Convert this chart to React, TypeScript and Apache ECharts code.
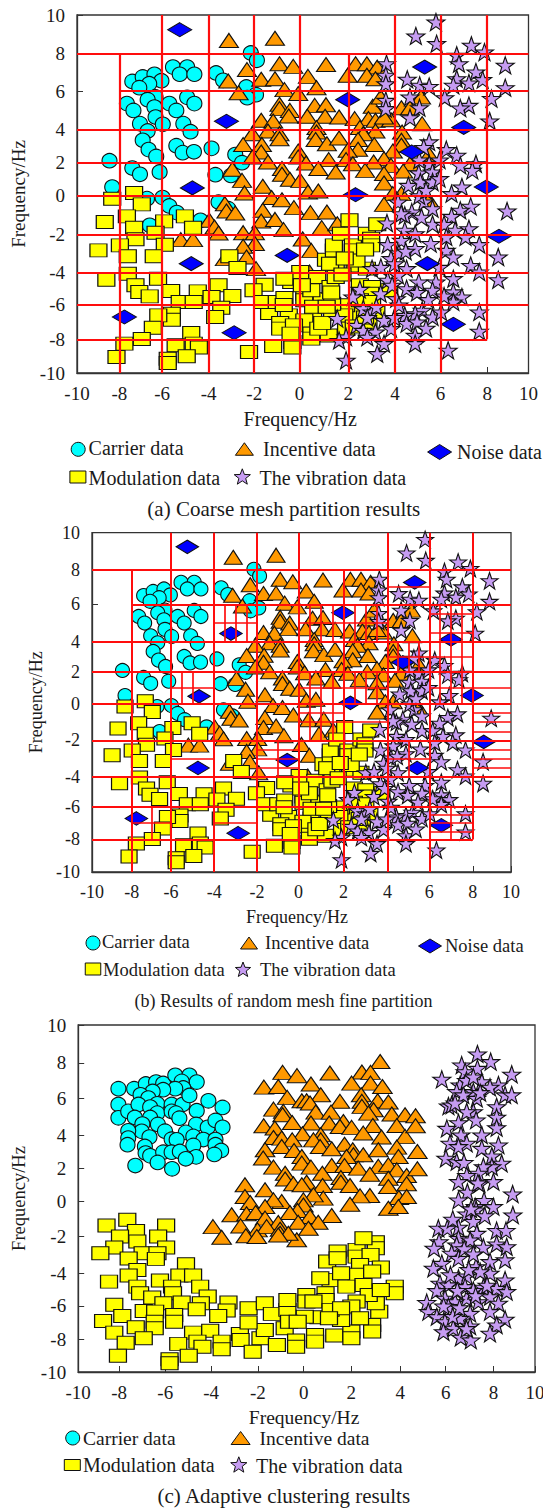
import React, { useEffect, useRef } from "react";
import * as echarts from "echarts";

const NOMINAL = [-10, -8, -6, -4, -2, 0, 2, 4, 6, 8, 10];
const A_X = [-9.86, -7.98, -6.09, -4.03, -2.01, 0, 2.16, 4.23, 6.24, 8.31, 10.14];
const A_Y = [-10, -8.12, -6.18, -4.41, -2.27, -0.11, 1.77, 3.58, 5.75, 7.84, 10];
const B_X = [-10, -8.1, -6.23, -4.17, -2.12, -0.14, 2.01, 4.1, 6.1, 8.18, 10];
const B_Y = [-10, -8.08, -6.16, -4.39, -2.24, -0.1, 1.79, 3.57, 5.77, 7.8, 10];
const C_X = [-10, -8.21, -6.19, -4.18, -2.13, -0.13, 1.96, 4.1, 6.09, 8.18, 10];
const C_Y = [-10, -8.1, -6.19, -4.31, -2.19, -0.15, 1.75, 3.63, 5.75, 7.81, 10];

const carrierA = [[-2.16,7.88],[-1.89,7.47],[-5.61,7.09],[-4.98,7.09],[-5.31,6.69],[-4.66,6.69],[-3.7,6.76],[-3.39,6.35],[-7.41,6.29],[-6.95,6.54],[-6.43,6.69],[-6.12,6.33],[-6.66,6.16],[-7.1,5.94],[-2.36,5.98],[-1.93,5.55],[-2.32,5.38],[-6.38,5.42],[-6.73,5.27],[-4.98,5.4],[-5.77,5.05],[-4.66,5.05],[-7.65,5.05],[-7.36,4.67],[-6.43,4.86],[-5.46,4.67],[-6.38,4.3],[-7.07,3.93],[-6.06,3.89],[-5.15,3.93],[-6.73,3.52],[-4.83,3.48],[-6.95,3.0],[-6.69,2.48],[-5.46,2.7],[-5.18,2.31],[-4.68,2.36],[-3.9,2.55],[-6.35,2.1],[-2.85,2.2],[-2.55,1.75],[-8.42,1.86],[-7.41,1.45],[-7.07,1.1],[-6.2,1.23],[-3.73,1.08],[-3.04,1.04],[-8.3,0.39],[-6.76,-0.26],[-6.07,-0.2],[-5.77,-0.67],[-5.44,-1.04],[-3.59,-0.45],[-6.64,-1.75],[-4.39,-1.47],[-3.16,-0.82]];

const incentiveA = [[-3.13,8.58],[-1.09,8.7],[-2.33,6.95],[-0.89,7.28],[-0.28,7.13],[1.17,7.23],[2.48,7.28],[2.98,7.28],[3.44,7.09],[2.13,6.63],[2.98,6.63],[3.36,6.44],[0.37,6.57],[-1.7,6.41],[-1.09,6.44],[-3.16,6.31],[0.75,5.94],[-0.67,5.83],[-2.7,5.66],[-0.06,5.61],[-0.89,5.01],[-0.89,4.77],[0.67,4.95],[1.17,4.99],[-0.43,4.67],[3.24,4.9],[3.59,5.42],[4.51,4.82],[4.89,4.82],[5.38,5.42],[-1.7,4.12],[-1.17,4.08],[-0.48,4.36],[0.34,4.34],[1.13,4.34],[1.75,4.3],[2.44,4.21],[3.05,4.21],[3.36,4.12],[4.05,4.15],[5.43,3.93],[3.74,4.3],[0.75,3.71],[2.67,3.71],[4.54,3.46],[-1.4,3.52],[-0.89,3.37],[-2.09,3.37],[3.36,3.52],[0.75,3.46],[2.82,3.37],[-2.5,2.76],[-1.67,2.77],[-0.89,3.09],[0.71,3.04],[1.21,2.81],[1.75,3.13],[2.59,3.04],[4.51,3.0],[3.31,2.76],[2.59,2.5],[2.13,2.44],[4.51,2.72],[-1.7,2.35],[-2.09,2.07],[-0.06,2.4],[-0.06,2.07],[4.13,2.4],[5.74,2.22],[1.29,1.92],[2.06,1.92],[3.74,1.97],[-1.4,1.79],[0.29,1.73],[2.36,1.69],[3.28,1.79],[4.05,1.6],[4.89,1.69],[-0.78,1.42],[0.83,1.42],[1.6,1.23],[2.9,1.32],[3.74,1.14],[4.59,1.28],[-2.98,1.38],[-0.78,1.1],[-2.55,0.76],[-1.63,0.43],[-0.43,0.82],[0.03,0.76],[3.74,0.61],[-2.44,0.06],[-1.24,-0.2],[-0.78,-0.32],[0.37,0.11],[0.83,0.17],[4.13,0.02],[4.51,0.02],[-3.31,-0.54],[-3.24,-0.95],[-2.85,-1.06],[3.74,-0.58],[-0.25,-0.76],[0.48,-1.04],[1.21,-1.01],[-1.63,-0.91],[-4.0,-1.47],[-1.7,-1.51],[-1.09,-1.42],[-0.71,-1.99],[0.98,-1.88],[1.67,-1.66],[-3.77,-1.84],[-3.59,-2.18],[-2.5,-2.16],[-1.98,-2.16],[-5.26,-2.55],[-4.72,-2.55],[0.14,-2.51],[-1.98,-2.77],[-2.5,-2.92],[0.52,-3.15],[-3.31,-3.61],[-2.35,-3.52],[-1.93,-4.17],[0.44,-4.36],[5.74,-0.35]];

const modulationA = [[-8.3,-0.26],[-7.33,0.06],[-6.99,-0.58],[-7.65,-1.25],[-8.63,-1.56],[-6.0,-1.53],[-5.08,-1.25],[-7.33,-1.88],[-4.72,-1.88],[-6.38,-2.16],[-7.27,-2.53],[-7.96,-2.87],[-5.97,-2.83],[-8.91,-3.15],[-7.61,-3.48],[-6.46,-3.48],[-3.11,-3.48],[-2.75,-4.13],[-7.61,-4.45],[-6.27,-4.73],[-8.56,-4.79],[-7.27,-5.1],[-7.1,-5.47],[-3.59,-5.1],[-5.69,-5.42],[-6.64,-5.72],[-4.51,-5.44],[-2.98,-5.7],[-3.9,-5.75],[-5.31,-6.03],[-4.69,-6.03],[-1.55,-5.07],[-2.04,-5.38],[-3.47,-6.35],[-5.66,-6.69],[-5.66,-7.02],[-3.74,-6.87],[-6.26,-6.78],[-6.5,-7.47],[-6.99,-8.1],[-7.76,-8.36],[-4.8,-7.77],[-5.49,-8.45],[-4.69,-8.36],[-4.46,-8.58],[-8.11,-9.11],[-5.0,-9.07],[-5.84,-9.2],[-5.84,-9.44],[-2.24,-8.83],[-1.17,-8.49],[-0.32,-8.27],[-0.32,-8.58],[-1.35,-6.65],[-0.48,-6.78],[-0.86,-7.21],[-0.86,-7.52],[0.6,-6.87],[0.52,-7.8],[0.52,-8.08],[1.29,-7.9],[-1.63,-6.03],[-1.01,-6.03],[-0.67,-5.81],[0.21,-5.57],[0.21,-5.94],[0.98,-5.88],[-0.37,-4.92],[0.03,-4.36],[-0.67,-4.73],[0.78,-4.64],[1.37,-5.2],[1.17,-3.67],[1.52,-3.15],[1.52,-2.87],[2.21,-1.47],[1.83,-2.22],[2.36,-2.87],[2.36,-3.15],[2.98,-2.22],[3.17,-2.5],[3.17,-2.87],[3.44,-1.69],[1.6,-4.08],[1.6,-4.64],[2.44,-3.99],[2.98,-4.17],[2.67,-5.1],[0.52,-5.38],[3.21,-5.2],[2.67,-6.69],[3.13,-5.57],[3.05,-7.24],[3.97,-5.38],[2.06,-6.22],[1.44,-6.69],[2.06,-7.52],[2.67,-5.94],[3.21,-6.03],[1.98,-6.78],[0.21,-7.06],[-0.25,-7.34],[0.83,-7.52],[1.44,-6.13],[2.52,-3.71],[1.35,-3.9],[1.9,-4.5],[1.4,-5.5],[2.9,-3.1],[2.0,-3.6],[0.6,-6.3],[1.0,-7.2],[1.2,-6.3],[2.4,-7.4],[3.4,-6.6],[2.9,-6.9],[-0.4,-7.8],[-0.7,-6.2],[0.1,-5.1]];

const vibrationA = [[6.04,9.61],[5.15,8.83],[6.07,8.4],[7.61,8.31],[8.19,7.93],[6.96,7.75],[7.06,7.28],[3.85,7.28],[9.11,7.19],[7.81,6.82],[3.82,6.63],[3.82,6.16],[4.77,6.41],[5.32,6.07],[5.74,6.01],[6.96,6.44],[7.5,6.2],[8.11,6.39],[6.81,6.07],[9.11,5.94],[6.43,5.38],[8.5,5.33],[4.89,5.42],[3.82,5.23],[3.82,4.77],[5.31,4.82],[7.5,4.95],[7.12,4.8],[8.42,4.08],[4.89,4.26],[5.74,2.91],[6.5,2.48],[6.96,2.16],[7.81,1.69],[7.65,1.32],[7.12,1.6],[5.74,1.69],[5.28,1.17],[5.89,1.23],[4.82,0.48],[5.35,0.67],[5.89,0.67],[7.19,0.39],[6.73,0.02],[6.2,0.86],[4.36,-0.45],[5.51,-0.45],[4.97,-1.01],[4.66,-1.19],[5.89,-0.82],[7.58,-0.69],[7.12,-0.91],[6.73,-1.25],[3.87,-1.62],[5.89,-1.69],[4.66,-2.03],[5.12,-2.22],[6.89,-2.03],[7.5,-1.94],[7.35,-2.4],[4.51,-2.59],[5.81,-2.77],[5.12,-3.05],[6.5,-3.15],[7.96,-2.83],[3.9,-2.83],[6.81,-3.52],[4.05,-3.61],[3.21,-4.17],[7.58,-3.99],[7.96,-4.36],[8.8,-3.52],[8.8,-4.79],[9.19,-0.95],[4.74,-4.17],[4.36,-4.54],[5.28,-4.92],[3.9,-4.82],[6.04,-4.92],[6.81,-4.73],[5.89,-5.38],[4.74,-5.29],[4.28,-5.85],[3.59,-5.57],[2.67,-5.33],[6.81,-5.47],[7.19,-5.75],[6.81,-6.03],[5.43,-6.5],[5.89,-6.87],[5.12,-6.69],[4.66,-6.78],[7.96,-6.59],[6.27,-6.59],[2.82,-6.41],[2.36,-5.75],[3.21,-6.59],[4.74,-7.24],[5.2,-7.15],[3.74,-7.06],[1.67,-6.96],[2.52,-7.34],[3.36,-7.71],[2.82,-7.62],[4.05,-7.52],[7.96,-7.67],[5.12,-7.9],[2.06,-7.99],[3.74,-8.36],[1.75,-8.18],[5.12,-8.36],[6.58,-8.73],[3.44,-8.92],[2.06,-9.29],[3.0,-6.9],[3.4,-6.3],[4.2,-6.9],[4.4,-6.2],[5.6,-7.5],[4.4,-3.3],[4.7,-3.2],[3.6,-4.1],[4.2,-3.9],[5.2,-5.5],[5.7,-5.9],[6.4,-1.7],[5.4,-1.3],[4.1,-5.1],[3.0,-8.0],[5.3,-0.1],[5.6,0.2],[6.2,1.9],[5.5,2.6],[5.3,1.9],[4.5,-1.1],[6.5,-2.4],[6.2,-4.1],[6.4,-5.7]];

const noiseA = [[-5.31,9.18],[5.54,7.09],[2.13,5.27],[-3.24,4.06],[7.27,3.72],[4.97,2.35],[-4.75,0.34],[8.27,0.39],[2.48,-0.04],[8.83,-2.36],[-0.55,-3.43],[-4.8,-3.89],[5.66,-3.89],[-7.76,-6.87],[6.81,-7.28],[-2.9,-7.75]];

const carrierC = [[-8.24,6.33],[-8.24,5.42],[-8.24,4.65],[-7.81,5.02],[-7.55,6.33],[-7.04,6.6],[-6.59,6.71],[-6.28,6.63],[-5.75,7.1],[-5.13,7.1],[-4.81,6.71],[-5.47,6.75],[-5.4,6.37],[-5.75,6.33],[-6.28,6.27],[-6.74,6.17],[-7.27,5.98],[-6.93,5.79],[-7.36,5.42],[-6.54,5.46],[-6.85,5.27],[-5.91,5.42],[-5.43,5.42],[-5.13,5.94],[-4.3,5.63],[-3.68,5.25],[-4.81,5.06],[-6.54,4.92],[-6.85,4.67],[-7.52,4.67],[-5.91,5.02],[-5.72,4.92],[-5.57,4.63],[-7.19,4.29],[-6.51,4.27],[-7.22,3.87],[-6.2,3.88],[-4.84,4.27],[-4.33,4.1],[-3.99,4.5],[-3.68,4.1],[-7.81,3.9],[-7.81,3.48],[-7.84,3.1],[-6.88,3.54],[-5.29,3.81],[-4.96,3.58],[-4.52,3.4],[-3.99,3.4],[-3.99,3.1],[-5.91,3.42],[-5.69,3.38],[-7.08,3.0],[-7.05,2.62],[-6.85,2.46],[-4.96,3.06],[-6.28,2.67],[-5.91,2.67],[-5.55,2.71],[-3.74,2.77],[-4.04,2.54],[-4.84,2.4],[-5.29,2.29],[-6.52,2.08],[-7.5,1.9],[-5.89,1.71]];

const incentiveC = [[3.22,7.9],[-1.05,7.27],[-0.42,7.08],[1.02,7.23],[2.42,7.29],[2.8,7.27],[-1.87,6.42],[-1.24,6.46],[0.19,6.6],[1.97,6.65],[2.8,6.65],[3.32,6.46],[-0.85,5.83],[0.62,5.98],[1.46,5.6],[2.39,5.98],[2.42,5.6],[2.42,5.31],[3.11,5.63],[3.58,5.56],[-0.21,5.63],[0,5.63],[0.15,5.5],[-1.45,5.15],[-1.02,5.02],[-1.05,4.83],[0.4,4.98],[1.07,4.98],[2.93,5.12],[2.71,4.92],[3.73,4.87],[4.31,4.83],[-0.63,4.38],[0.19,4.35],[0.99,4.35],[1.61,4.44],[1.46,4.15],[1.97,4.1],[2.9,4.21],[3.95,4.21],[-1.88,4.19],[-1.39,4.06],[-1.45,3.52],[-1.09,3.48],[-0.18,3.73],[0.62,3.67],[0.62,3.38],[2.48,3.77],[-0.63,3.38],[0.3,3.38],[0.59,3.0],[3.28,3.54],[4.31,3.58],[-1.09,3.0],[1.66,3.13],[1.1,2.87],[-1.82,2.81],[-0.55,2.77],[2.02,2.81],[-1.9,2.33],[-0.21,2.42],[-0.21,2.04],[2.05,2.52],[2.48,2.52],[3.14,2.81],[3.95,2.96],[4.02,2.42],[1.75,2.42],[0.19,1.81],[-1.45,1.81],[1.1,1.9],[1.66,1.9],[2.26,1.75],[3.14,1.85],[3.58,1.94],[3.95,1.65],[-0.94,1.46],[-0.94,1.12],[0.69,1.46],[2.77,1.4],[4.38,1.33],[3.58,1.17],[-0.58,0.85],[0,0.94],[-0.21,0.79],[0.7,0.75],[1.5,1.21],[1.5,0.94],[1.9,0.75],[3.58,0.69],[4.38,0.85],[-2.7,0.79],[-1.82,0.5],[2.77,0.17],[2.34,0.15],[0.73,0.02],[0.3,0.21],[4.04,0.06],[4.38,0.12],[-2.7,0.12],[-2.47,-0.23],[-1.09,-0.17],[-1.45,-0.08],[1.9,-0.33],[-0.14,-0.08],[3.58,-0.56],[4.02,-0.46],[-0.14,-0.37],[-1.82,-0.46],[-3.28,-0.94],[-2.63,-0.88],[-2.23,-0.81],[-0.4,-0.69],[-0.73,-0.81],[1.1,-0.98],[0.15,-1.04],[0.51,-1.37],[-0.37,-1.37],[-1.82,-1.13],[-1.24,-1.38],[-2.89,-1.58],[-2.15,-1.81],[-1.75,-1.62],[-1.16,-1.77],[-1.16,-2.0],[0.08,-1.71],[-2.66,-2.15],[-2.18,-2.19],[-0.43,-2.38],[-0.8,-2.0],[-1.24,-2.1],[-4.1,-1.62],[-3.72,-2.23],[4.77,4.77],[4.77,4.19],[4.85,2.71],[4.85,1.71]];

const modulationC = [[-7.85,-1.23],[-8.76,-1.56],[-7.47,-1.87],[-8.17,-2.19],[-6.15,-1.56],[-6.5,-2.19],[-7.41,-2.48],[-8.42,-2.83],[-6.15,-2.83],[-7.18,-3.15],[-9.03,-3.15],[-6.53,-3.15],[-6.6,-3.48],[-7.79,-3.46],[-7.41,-4.12],[-7.79,-4.44],[-5.28,-3.79],[-5.57,-4.44],[-4.97,-4.44],[-8.65,-4.79],[-6.42,-4.73],[-7.41,-5.08],[-5.89,-5.08],[-4.66,-5.08],[-7.29,-5.46],[-5.85,-5.46],[-4.33,-5.65],[-6.76,-5.71],[-6.27,-6.04],[-5.47,-6.0],[-4.63,-6.04],[-3.42,-6.0],[-8.42,-6.13],[-7.13,-6.48],[-6.63,-6.52],[-3.5,-6.46],[-5.8,-6.71],[-4.81,-6.38],[-3.87,-6.77],[-8.91,-7.06],[-8.07,-6.77],[-7.48,-7.42],[-8.42,-7.73],[-6.65,-7.1],[-6.65,-7.48],[-7.13,-8.06],[-5.8,-7.1],[-7.92,-8.31],[-8.26,-9.06],[-4.97,-7.73],[-4.22,-7.62],[-5.62,-8.38],[-4.78,-8.25],[-4.56,-8.54],[-3.72,-8.25],[-3.72,-8.69],[-5.16,-9.06],[-6.0,-9.27],[-6.0,-9.5],[-2.92,-7.81],[-2.89,-8.15],[-2.02,-8.06],[-2.36,-8.83],[-1.83,-7.58],[-1.3,-8.44],[-2.54,-6.33],[-2.54,-7.15],[-1.83,-6.04],[-1.52,-6.65],[-0.96,-7.48],[-0.46,-8.19],[-0.46,-8.54],[-0.84,-6.42],[-0.84,-5.85],[-0.01,-5.56],[-0.01,-5.94],[0.83,-5.46],[0.83,-5.85],[0.3,-5.94],[0.52,-6.85],[0.37,-7.87],[0.37,-8.25],[1.21,-7.9],[1.96,-7.67],[1.96,-8.06],[1.51,-7.0],[2.87,-7.29],[2.87,-7.67],[3.18,-6.52],[0.9,-3.63],[1.36,-3.06],[1.36,-3.44],[2.19,-2.96],[2.19,-3.35],[3.03,-2.52],[3.03,-2.87],[2.49,-2.29],[2.8,-3.25],[2.34,-3.83],[2.19,-4.4],[3.25,-3.98],[2.87,-4.21],[1.05,-4.69],[1.51,-4.31],[0.6,-4.6],[2.49,-4.98],[3.03,-5.65],[3.03,-6.04],[3.86,-5.08],[3.86,-5.46],[2.72,-5.56],[2.19,-5.94],[1.96,-6.23],[3.25,-5.27],[1.05,-6.42],[1.74,-5.08],[2.34,-6.9],[-0.08,-6.81],[1.51,-6.33],[-0.77,-7.1],[0.98,-6.9],[-0.39,-7.1]];

const vibrationC = [[7.48,8.33],[6.79,7.69],[8.06,7.89],[5.92,6.87],[8.98,7.16],[6.94,7.31],[7.48,7.5],[7.67,6.73],[6.72,6.54],[6.57,6.16],[8.4,6.54],[8.03,6.41],[7.3,6.16],[6.86,5.97],[8.69,5.97],[8.98,5.97],[7.45,5.77],[6.21,5.33],[6.35,5.39],[8.32,5.29],[7.3,5.0],[7.01,5.0],[7.42,4.52],[8.32,4.68],[6.65,4.37],[8.32,4.08],[6.14,4.04],[6.76,3.66],[7.67,3.66],[7.01,3.18],[6.28,3.18],[8.4,3.08],[7.67,2.89],[6.65,2.99],[6.1,2.32],[6.57,2.12],[8.11,2.45],[6.89,2.07],[8.54,2.03],[8.11,1.83],[7.74,1.83],[7.52,1.45],[7.01,1.32],[6.65,0.97],[8.18,0.97],[7.57,0.84],[7.04,0.36],[9.02,0.26],[6.65,-0.09],[7.77,-0.12],[8.18,-0.47],[7.38,-0.47],[7.42,-0.66],[9.03,-0.95],[7.01,-0.89],[7.3,-1.33],[6.65,-1.66],[5.77,-1.72],[6.16,-1.72],[8.32,-1.85],[8.73,-1.85],[7.45,-2.01],[6.65,-2.3],[5.8,-2.49],[5.58,-2.87],[6.57,-2.68],[8.32,-2.62],[8.76,-2.78],[7.74,-2.81],[7.16,-2.39],[6.35,-3.16],[8.69,-3.54],[8.03,-3.64],[6.65,-3.45],[5.92,-3.74],[5.55,-4.02],[7.42,-3.93],[8.03,-4.31],[7.6,-4.22],[6.65,-4.6],[8.69,-4.7],[5.84,-4.89],[7.01,-4.47],[6.21,-4.98],[6.94,-5.08],[5.7,-5.31],[7.74,-5.12],[8.32,-5.18],[8.76,-5.37],[6.06,-5.75],[7.01,-5.75],[8.03,-5.66],[5.26,-6.0],[5.33,-6.52],[6.5,-5.95],[7.52,-5.95],[6.21,-6.23],[8.4,-6.04],[8.03,-6.52],[7.16,-6.62],[5.7,-6.81],[6.72,-6.91],[8.69,-6.96],[8.32,-7.29],[6.06,-7.1],[7.16,-7.35],[6.42,-7.48],[5.99,-7.68],[8.03,-7.77],[6.75,-8.0],[7.19,-8.16],[6.3,-4.4],[6.6,-5.3],[7.3,-5.3],[6.4,-6.8],[7.0,-7.5],[6.7,-6.3],[7.4,-5.6],[6.0,-6.2],[7.9,-5.0],[7.1,-4.1],[6.9,-2.9],[7.3,-3.2],[6.4,-1.2],[7.8,-1.0],[7.2,-0.6],[7.5,0.9],[7.0,6.8],[7.3,7.0],[7.6,6.1],[6.5,5.5]];

// Mesh lines, in nominal axis units: [at, from, to]
const coarseV = [[-8,-10,8],[-6,-10,10],[-4,-10,10],[-2,-10,10],[0,-10,10],[2,-10,8],[4,-10,10],[6,-10,10],[8,-8,10]];
const coarseH = [[8,-10,10],[6,-8,10],[4,-10,10],[2,-10,10],[0,-10,10],[-2,-10,10],[-4,-10,10],[-6,-10,10],[-8,-10,8]];
const fineV = [[-3.5,4,6],[-3,4,6],[-2.5,4,6],[0.5,4,6],[1,4,6],[1.5,4,6],[2.5,4,6],[3,4,6],[3.5,4,6],[6.5,4,6],[7,4,6],[7.5,4,6],[4.5,2,4],[5,2,4],[5.5,2,4],[6.5,2,4],[7,2,4],[7.5,2,4],[0.5,0,2],[1,0,2],[1.5,0,2],[2.5,0,2],[3,0,2],[3.5,0,2],[-5.5,0,2],[-5,0,2],[6.5,0,2],[7,0,2],[7.5,0,2],[0.5,-2,0],[1,-2,0],[1.5,-2,0],[-1,-4,-2],[5,-4,-2],[-7,-8,-6],[7,-8,-6]];
const fineH = [[5,-4,-2],[5,0,4],[5.5,6,8],[4.5,6,8],[3,4,8],[7,4,6],[1,0,4],[1,-6,-4],[1,6,10],[-0.5,8,10],[-1,8,10],[-1.5,8,10],[-0.5,0,2],[-1,0,4],[-2.5,-2,0],[-3,-2,0],[-3.5,-2,0],[-3,4,6],[-3,-6,-4],[-2.5,8,10],[-3,8,10],[-3.5,8,10],[-7,-8,-6],[-7,-4,-2],[-6.5,6,8],[-7,6,8],[-7.5,6,8]];

const CARRIER = "Carrier data";
const INCENTIVE = "Incentive data";
const NOISE = "Noise data";
const MODULATION = "Modulation data";
const VIBRATION = "The vibration data";
const X_NAME = "Frequency/Hz";
const CAPTIONS = ["(a) Coarse mesh partition results", "(b) Results of random mesh fine partition", "(c) Adaptive clustering results"];

const FONT = "Liberation Serif";
const INK = "#1a1a1a";
const COLORS = { cyan: "#00ffff", orange: "#ff9900", yellow: "#ffff00", purple: "#c69cf2", blue: "#0000ff", red: "#ff0d0d" };
const STAR = "path://M50 0L61.8 35.5L98 35.5L68.8 57.5L79.4 93L50 71.5L20.6 93L31.2 57.5L2 35.5L38.2 35.5Z";

function remap(v: number, from: number[], to: number[]) {
  let i = 0;
  while (i < from.length - 2 && v > from[i + 1]) i++;
  const t = (v - from[i]) / (from[i + 1] - from[i]);
  return to[i] + t * (to[i + 1] - to[i]);
}

function scatter(name: string, symbol: string, size: number[], color: string, data: number[][], gi: number, z: number) {
  return {
    name, type: "scatter", symbol, symbolSize: size, xAxisIndex: gi, yAxisIndex: gi, clip: false, z,
    itemStyle: { color, borderColor: "#111", borderWidth: 1.1, opacity: 1 },
    data,
  };
}

function meshSeries(gi: number, tx: number[], ty: number[], vs: number[][], hs: number[][], width: number) {
  const mx = (v: number) => remap(v, NOMINAL, tx);
  const my = (v: number) => remap(v, NOMINAL, ty);
  const lines = [
    ...vs.map(([a, f, t]) => [{ coord: [mx(a), my(f)] }, { coord: [mx(a), my(t)] }]),
    ...hs.map(([a, f, t]) => [{ coord: [mx(f), my(a)] }, { coord: [mx(t), my(a)] }]),
  ];
  return {
    type: "scatter", xAxisIndex: gi, yAxisIndex: gi, data: [], silent: true,
    markLine: {
      silent: true, symbol: ["none", "none"], label: { show: false }, animation: false, z: 10,
      lineStyle: { color: COLORS.red, width, type: "solid", opacity: 1 }, emphasis: { disabled: true },
      data: lines,
    },
  };
}

function axes(gi: number, ticks: number[], isX: boolean, fontSize: number, nameSize: number, nameGap: number, namePad: number[]) {
  return {
    gridIndex: gi, type: "value", min: ticks[0], max: ticks[10], name: X_NAME, nameLocation: "middle", nameGap,
    nameTextStyle: { fontFamily: FONT, fontSize: nameSize, color: INK, padding: namePad },
    axisLine: { show: true, onZero: false, lineStyle: { color: "#333", width: 1.3 } },
    axisTick: { show: true, inside: true, length: 6, customValues: ticks, lineStyle: { color: "#333", width: 1 } },
    axisLabel: {
      show: true, customValues: ticks, fontFamily: FONT, fontSize, color: INK, margin: isX ? 11 : 12,
      formatter: (v: number) => String(NOMINAL[ticks.indexOf(v)]),
    },
    splitLine: { show: false },
  };
}

function text(t: string, x: number, y: number, fontSize: number, align = "left") {
  return { type: "text", x, y, silent: true, style: { text: t, fontFamily: FONT, fontSize, fill: INK, align, verticalAlign: "middle" } };
}
const keyStyle = (fill: string) => ({ fill, stroke: "#111", lineWidth: 1 });
const circleKey = (cx: number, cy: number, r: number) => ({ type: "circle", silent: true, shape: { cx, cy, r }, style: keyStyle(COLORS.cyan) });
const triKey = (cx: number, cy: number, w: number, h: number) => ({ type: "polygon", silent: true, shape: { points: [[cx, cy - h / 2], [cx + w / 2, cy + h / 2], [cx - w / 2, cy + h / 2]] }, style: keyStyle(COLORS.orange) });
const diaKey = (cx: number, cy: number, w: number, h: number) => ({ type: "polygon", silent: true, shape: { points: [[cx, cy - h / 2], [cx + w / 2, cy], [cx, cy + h / 2], [cx - w / 2, cy]] }, style: keyStyle(COLORS.blue) });
const rectKey = (cx: number, cy: number, w: number, h: number) => ({ type: "rect", silent: true, shape: { x: cx - w / 2, y: cy - h / 2, width: w, height: h }, style: keyStyle(COLORS.yellow) });
const starKey = (cx: number, cy: number, r: number) => {
  const pts: number[][] = [];
  for (let i = 0; i < 10; i++) {
    const a = -Math.PI / 2 + (i * Math.PI) / 5;
    const q = i % 2 ? r * 0.42 : r;
    pts.push([cx + q * Math.cos(a), cy + q * Math.sin(a)]);
  }
  return { type: "polygon", silent: true, shape: { points: pts }, style: keyStyle(COLORS.purple) };
};

const gridBase = { show: true, borderColor: "#333", borderWidth: 1.3, backgroundColor: "transparent", outerBoundsMode: "none" };

export default function App() {
  const ref = useRef<HTMLDivElement>(null);
  useEffect(() => {
    const chart = echarts.init(ref.current!, undefined, { renderer: "svg" });
    const toB = (d: number[][]) => d.map(([x, y]) => [remap(x, A_X, B_X), remap(y, A_Y, B_Y)]);
    const option = {
      animation: false,
      backgroundColor: "#fff",
      grid: [
        { ...gridBase, left: 77, top: 15, width: 451.5, height: 358 },
        { ...gridBase, left: 92, top: 532.7, width: 419, height: 339.3 },
        { ...gridBase, left: 78.2, top: 1025, width: 456.8, height: 347 },
      ],
      xAxis: [
        axes(0, A_X, true, 19, 20, 36, [0, 5, 0, 0]),
        axes(1, B_X, true, 18, 18, 36, [0, 9, 0, 0]),
        axes(2, C_X, true, 19, 19.5, 35, [0, 5, 0, 0]),
      ],
      yAxis: [
        axes(0, A_Y, false, 19, 19, 49, [0, 0, 0, 0]),
        axes(1, B_Y, false, 18, 18, 45, [0, 0, 0, 0]),
        axes(2, C_Y, false, 19, 18.5, 50, [0, 0, 0, 0]),
      ],
      series: [
        scatter(CARRIER, "circle", [15, 14.5], COLORS.cyan, carrierA, 0, 2),
        scatter(INCENTIVE, "triangle", [19, 14], COLORS.orange, incentiveA, 0, 3),
        scatter(MODULATION, "rect", [17, 13], COLORS.yellow, modulationA, 0, 4),
        scatter(VIBRATION, STAR, [18, 17], COLORS.purple, vibrationA, 0, 5),
        scatter(NOISE, "diamond", [24, 14], COLORS.blue, noiseA, 0, 6),
        meshSeries(0, A_X, A_Y, coarseV, coarseH, 2.2),
        scatter(CARRIER, "circle", [14, 14], COLORS.cyan, toB(carrierA), 1, 2),
        scatter(INCENTIVE, "triangle", [18, 14], COLORS.orange, toB(incentiveA), 1, 3),
        scatter(MODULATION, "rect", [16, 13], COLORS.yellow, toB(modulationA), 1, 4),
        scatter(VIBRATION, STAR, [17, 16.5], COLORS.purple, toB(vibrationA), 1, 5),
        scatter(NOISE, "diamond", [22.5, 13.5], COLORS.blue, toB(noiseA), 1, 6),
        meshSeries(1, B_X, B_Y, coarseV, coarseH, 2),
        meshSeries(1, B_X, B_Y, fineV, fineH, 1.7),
        scatter(CARRIER, "circle", [15, 14.5], COLORS.cyan, carrierC, 2, 2),
        scatter(INCENTIVE, "triangle", [19.5, 14], COLORS.orange, incentiveC, 2, 3),
        scatter(MODULATION, "rect", [17, 13], COLORS.yellow, modulationC, 2, 4),
        scatter(VIBRATION, STAR, [18, 17], COLORS.purple, vibrationC, 2, 5),
      ],
      graphic: [
        circleKey(78.2, 449.3, 7), text(CARRIER, 88.6, 448.3, 20),
        triKey(244.4, 449, 18, 12.5), text(INCENTIVE, 263, 449.3, 20),
        diaKey(439.6, 452, 24, 15), text(NOISE, 457, 452, 20),
        rectKey(77.9, 477, 16, 12), text(MODULATION, 88.6, 478.3, 20),
        starKey(242.3, 477.3, 8.5), text(VIBRATION, 259.6, 478, 20),
        text(CAPTIONS[0], 283.8, 509.3, 21, "center"),
        circleKey(93, 943, 7), text(CARRIER, 102, 942, 18.5),
        triKey(249, 943, 17, 12), text(INCENTIVE, 265, 943, 18.5),
        diaKey(430, 946, 23, 14), text(NOISE, 445, 946, 18.5),
        rectKey(93, 969, 15.5, 12), text(MODULATION, 103, 970, 18.5),
        starKey(243, 970, 8), text(VIBRATION, 260, 970, 18.5),
        text(CAPTIONS[1], 283.5, 1001, 18, "center"),
        circleKey(72.7, 1438, 7), text(CARRIER, 83, 1438, 19.5),
        triKey(240.6, 1438, 19, 13), text(INCENTIVE, 259.6, 1438, 19.5),
        rectKey(72.3, 1465, 16, 11), text(MODULATION, 83, 1465, 20),
        starKey(238.8, 1465.3, 8.5), text(VIBRATION, 256, 1466, 20),
        text(CAPTIONS[2], 283.8, 1496, 21, "center"),
      ],
    };
    chart.setOption(option as any);
    return () => chart.dispose();
  }, []);
  return <div ref={ref} style={{ position: "absolute", left: 0, top: 0, width: 543, height: 1508 }} />;
}
